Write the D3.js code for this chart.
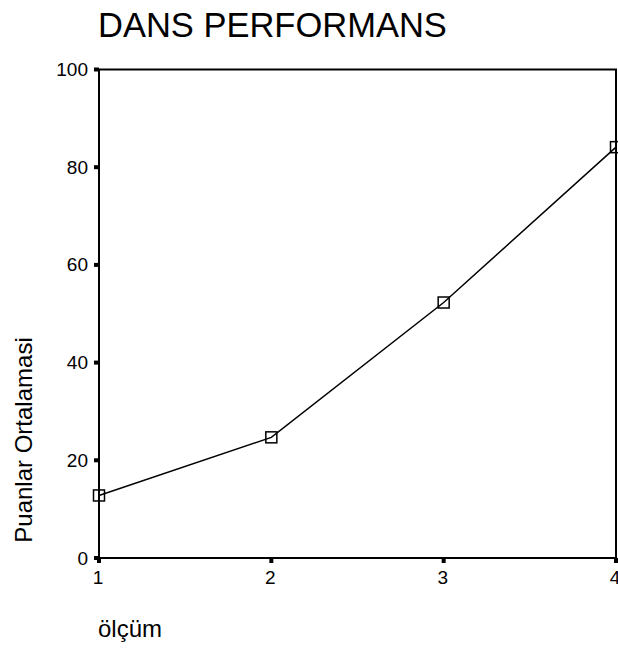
<!DOCTYPE html>
<html>
<head>
<meta charset="utf-8">
<script src="https://cdn.jsdelivr.net/npm/d3@7"></script>
<style>
  body { margin: 0; background: #fff; }
  svg { display: block; font-family: 'Liberation Sans', Arial, sans-serif; }
</style>
</head>
<body>
<div id="chart"></div>
<script>
// data
const olcum = [1, 2, 3, 4];
const puanlar = [12.8, 24.7, 52.3, 84.1];
const yTicks = [0, 20, 40, 60, 80, 100];
const xTicks = [1, 2, 3, 4];

const size = { width: 618, height: 655 };
const margin = { top: 69.5, right: 2, bottom: 97, left: 99 };

const svg = d3.select('#chart').append('svg')
  .attr('width', size.width)
  .attr('height', size.height);

const x = d3.scaleLinear()
  .domain([1, 4])
  .range([margin.left, size.width - margin.right]);

const y = d3.scaleLinear()
  .domain([0, 100])
  .range([size.height - margin.bottom, margin.top]);

// title
svg.append('text')
  .text('DANS PERFORMANS')
  .attr('x', 98)
  .attr('y', 37)
  .attr('font-size', '34.5px')
  .attr('fill', '#000');

// frame
svg.append('rect')
  .attr('x', x(1))
  .attr('y', y(100))
  .attr('width', x(4) - x(1))
  .attr('height', y(0) - y(100))
  .attr('fill', 'none')
  .attr('stroke', '#000')
  .attr('stroke-width', 2);

// y axis ticks (small square marks) and labels
const yAxis = svg.append('g');
yTicks.forEach((v) => {
  yAxis.append('rect')
    .attr('x', x(1) - 5)
    .attr('y', y(v) - 2)
    .attr('width', 5)
    .attr('height', 4)
    .attr('fill', '#000');
  yAxis.append('text')
    .text(v)
    .attr('x', 88)
    .attr('y', y(v) + 6.5)
    .attr('text-anchor', 'end')
    .attr('font-size', '19px');
});

// x axis ticks and labels
const xAxis = svg.append('g');
xTicks.forEach((v) => {
  xAxis.append('rect')
    .attr('x', x(v) - 2)
    .attr('y', y(0))
    .attr('width', 4)
    .attr('height', 5)
    .attr('fill', '#000');
  xAxis.append('text')
    .text(v)
    .attr('x', x(v) - 1)
    .attr('y', 584)
    .attr('text-anchor', 'middle')
    .attr('font-size', '19px');
});

// axis titles
svg.append('text')
  .text('Puanlar Ortalamasi')
  .attr('transform', 'translate(32, 440) rotate(-90)')
  .attr('text-anchor', 'middle')
  .attr('font-size', '24px');

svg.append('text')
  .text('ölçüm')
  .attr('x', 98)
  .attr('y', 637)
  .attr('font-size', '24px');

// line
const pts = olcum.map((d, i) => ({ x: d, y: puanlar[i] }));
const line = d3.line()
  .x((d) => x(d.x))
  .y((d) => y(d.y));

svg.append('path')
  .datum(pts)
  .attr('d', line)
  .attr('fill', 'none')
  .attr('stroke', '#000')
  .attr('stroke-width', 1.5);

// square markers
const ms = 11;
svg.append('g')
  .selectAll('rect')
  .data(pts)
  .enter()
  .append('rect')
  .attr('x', (d) => x(d.x) - ms / 2)
  .attr('y', (d) => y(d.y) - ms / 2)
  .attr('width', ms)
  .attr('height', ms)
  .attr('fill', 'none')
  .attr('stroke', '#000')
  .attr('stroke-width', 1.5);
</script>
</body>
</html>
